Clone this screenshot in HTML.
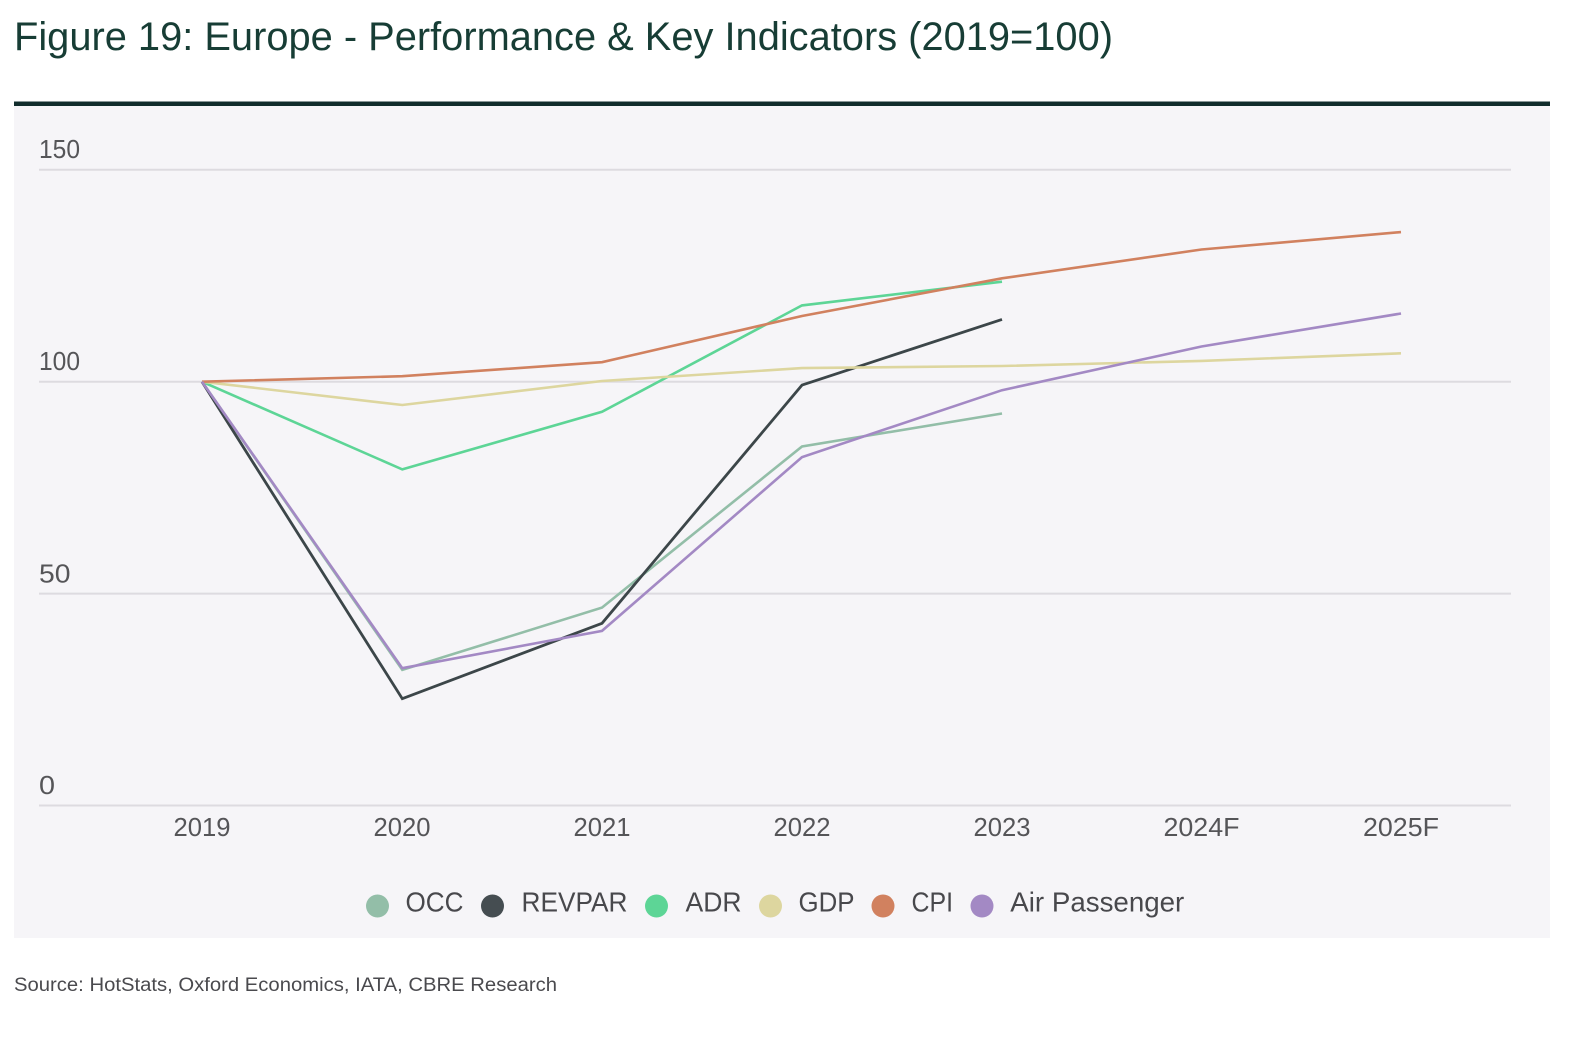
<!DOCTYPE html>
<html>
<head>
<meta charset="utf-8">
<style>
  html,body{margin:0;padding:0;background:#ffffff;}
  svg{display:block;}
  text{font-family:"Liberation Sans", Arial, sans-serif;}
</style>
</head>
<body>
<svg width="1578" height="1038" viewBox="0 0 1578 1038" xmlns="http://www.w3.org/2000/svg">
  <rect x="0" y="0" width="1578" height="1038" fill="#ffffff"/>
  <!-- Title -->
  <text x="14" y="50" font-size="40" fill="#173d35" textLength="1099" lengthAdjust="spacingAndGlyphs">Figure 19: Europe - Performance &amp; Key Indicators (2019=100)</text>
  <!-- Top rule -->
  <rect x="14" y="101.5" width="1536" height="4.5" fill="#112d2c"/>
  <!-- Panel -->
  <rect x="14" y="106" width="1536" height="832" fill="#f6f5f8"/>

  <!-- Gridlines -->
  <g stroke="#dddbe0" stroke-width="2">
    <line x1="39" y1="169.7" x2="1511" y2="169.7"/>
    <line x1="39" y1="381.7" x2="1511" y2="381.7"/>
    <line x1="39" y1="593.6" x2="1511" y2="593.6"/>
    <line x1="39" y1="805.5" x2="1511" y2="805.5"/>
  </g>

  <!-- Y tick labels -->
  <g font-size="26" fill="#555558">
    <text x="39" y="158.2" textLength="41" lengthAdjust="spacingAndGlyphs">150</text>
    <text x="39" y="370.2" textLength="41" lengthAdjust="spacingAndGlyphs">100</text>
    <text x="39" y="582.4" textLength="31.5" lengthAdjust="spacingAndGlyphs">50</text>
    <text x="39" y="794" textLength="16" lengthAdjust="spacingAndGlyphs">0</text>
  </g>

  <!-- X tick labels -->
  <g font-size="26" fill="#555558">
    <text x="173.5" y="836" textLength="57" lengthAdjust="spacingAndGlyphs">2019</text>
    <text x="373.5" y="836" textLength="57" lengthAdjust="spacingAndGlyphs">2020</text>
    <text x="573.5" y="836" textLength="57" lengthAdjust="spacingAndGlyphs">2021</text>
    <text x="773.5" y="836" textLength="57" lengthAdjust="spacingAndGlyphs">2022</text>
    <text x="973.5" y="836" textLength="57" lengthAdjust="spacingAndGlyphs">2023</text>
    <text x="1163.5" y="836" textLength="76" lengthAdjust="spacingAndGlyphs">2024F</text>
    <text x="1363" y="836" textLength="76" lengthAdjust="spacingAndGlyphs">2025F</text>
  </g>

  <!-- Series -->
  <g fill="none" stroke-width="2.6" stroke-linejoin="miter" stroke-linecap="butt">
    <!-- OCC -->
    <polyline stroke="#93bea8" points="202,381.7 402.3,669.9 602,607.6 802,446.5 1002,413.5"/>
    <!-- REVPAR -->
    <polyline stroke="#3c4649" stroke-width="2.8" points="202,381.7 402.3,698.7 602,623.3 802,385.1 1002,319.4"/>
    <!-- ADR -->
    <polyline stroke="#5dd596" points="202,381.7 402.3,469.4 602,411.8 802,305.4 1002,281.7"/>
    <!-- GDP -->
    <polyline stroke="#ddd69f" points="202,381.7 402.3,405 602,381 802,368.1 1002,366 1201.5,360.9 1401,353.3"/>
    <!-- CPI -->
    <polyline stroke="#d1815f" points="202,381.7 402.3,376.2 602,362.2 802,316 1002,278.3 1201.5,249.5 1401,232.1"/>
    <!-- Air Passenger -->
    <polyline stroke="#a389c4" points="202,381.7 402.3,668.2 602,630.9 802,457.1 1002,390.2 1201.5,346.5 1401,313.5"/>
  </g>

  <!-- Legend -->
  <g font-size="28" fill="#48484c">
    <circle cx="377.5" cy="906" r="11.5" fill="#93bea8"/>
    <text x="405.5" y="911.5" textLength="58" lengthAdjust="spacingAndGlyphs">OCC</text>
    <circle cx="492.5" cy="906" r="11.5" fill="#454d51"/>
    <text x="521.5" y="911.5" textLength="106" lengthAdjust="spacingAndGlyphs">REVPAR</text>
    <circle cx="656.5" cy="906" r="11.5" fill="#5dd596"/>
    <text x="685.5" y="911.5" textLength="56" lengthAdjust="spacingAndGlyphs">ADR</text>
    <circle cx="770.5" cy="906" r="11.5" fill="#ddd69f"/>
    <text x="798.5" y="911.5" textLength="56" lengthAdjust="spacingAndGlyphs">GDP</text>
    <circle cx="883" cy="906" r="11.5" fill="#d1815f"/>
    <text x="911.5" y="911.5" textLength="41.5" lengthAdjust="spacingAndGlyphs">CPI</text>
    <circle cx="982" cy="906" r="11.5" fill="#a389c4"/>
    <text x="1010.3" y="911.5" textLength="174" lengthAdjust="spacingAndGlyphs">Air Passenger</text>
  </g>

  <!-- Source -->
  <text x="14" y="991" font-size="19" fill="#4a4a4e" textLength="543" lengthAdjust="spacingAndGlyphs">Source: HotStats, Oxford Economics, IATA, CBRE Research</text>
</svg>
</body>
</html>
